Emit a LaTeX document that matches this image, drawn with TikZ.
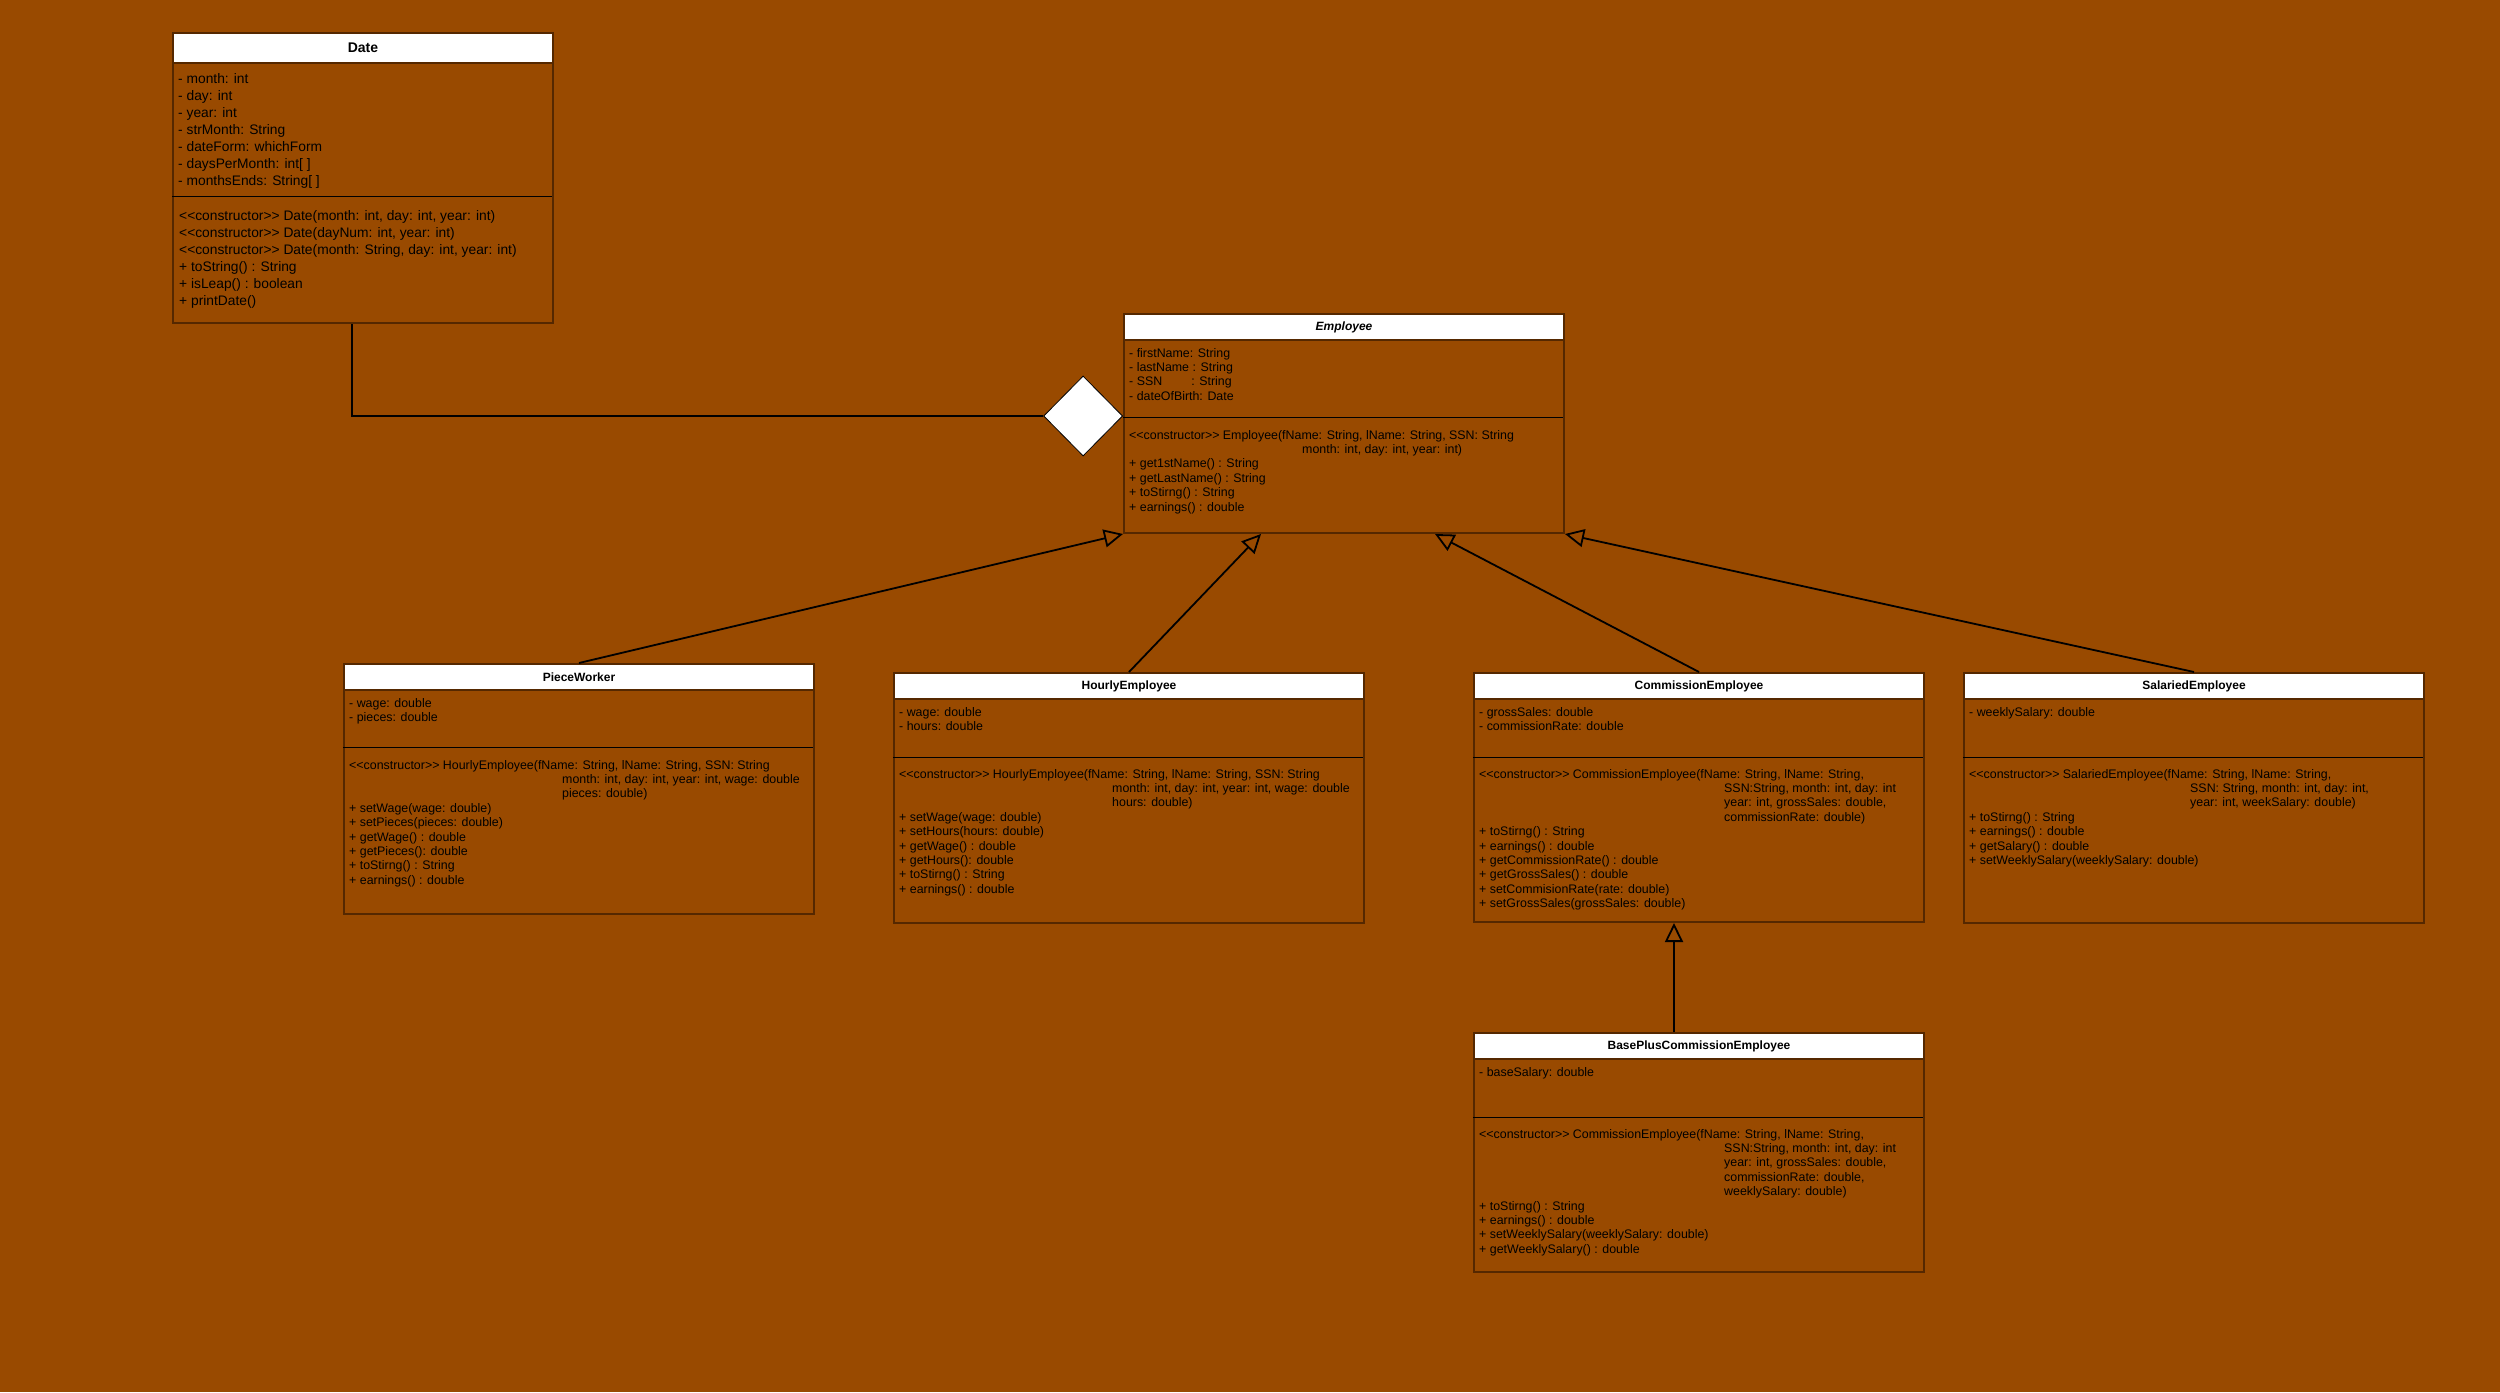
\documentclass[tikz,border=0pt]{standalone}
\usepackage{fontspec}
\newfontfamily\umlfont{Liberation Sans}
\usetikzlibrary{arrows.meta,shapes.geometric}
\definecolor{bgbrown}{HTML}{994A00}
\definecolor{edgebrown}{HTML}{552800}
\begin{document}
\begin{tikzpicture}[x=1pt,y=-1pt]
\tikzstyle{classbox}=[draw=edgebrown, line width=2pt, anchor=north west, inner sep=0pt]
\tikzstyle{classhead}=[classbox, fill=white, minimum height=26pt, font=\umlfont\bfseries\fontsize{12}{14}\selectfont]
\tikzstyle{classtext}=[anchor=base west, inner sep=0pt, font=\umlfont\fontsize{12.4}{14.4}\selectfont]
\tikzstyle{divider}=[draw=black, line width=1pt]
\tikzstyle{aggline}=[draw=black, line width=2.5pt]
\tikzstyle{genarrow}=[draw=black, line width=1.8pt, -{Triangle[open,length=19pt,width=18pt]}]
\tikzstyle{aggdiamond}=[diamond, draw=black, fill=white, line width=0.8pt, minimum width=79pt, minimum height=80pt, inner sep=0pt]
\fill[bgbrown] (0,0) rectangle (2500,1392);
\useasboundingbox (0,0) rectangle (2500,1392);

\node (date) [classbox, minimum width=380pt, minimum height=290pt] at (172,32) {};
\node (date-h) [classhead, minimum width=380pt, minimum height=30pt, font=\umlfont\bfseries\fontsize{14}{16}\selectfont] at (172,32) {Date};
\draw[divider] (172,196) -- (552,196);
\node (date-a) [classtext, font=\umlfont\fontsize{13.8}{17}\selectfont] at (178,83) {\begin{tabular}[t]{@{}l@{}}
- month: int\\ - day: int\\ - year: int\\ - strMonth: String\\ - dateForm: whichForm\\ - daysPerMonth: int[ ]\\ - monthsEnds: String[ ]\end{tabular}};
\node (date-o) [classtext, font=\umlfont\fontsize{13.8}{17}\selectfont] at (179,220) {\begin{tabular}[t]{@{}l@{}}
<<constructor>> Date(month: int, day: int, year: int)\\ <<constructor>> Date(dayNum: int, year: int)\\ <<constructor>> Date(month: String, day: int, year: int)\\ + toString() : String\\ + isLeap() : boolean\\ + printDate()\end{tabular}};

\node (employee) [classbox, minimum width=440pt, minimum height=219pt] at (1123,313) {};
\node (employee-h) [classhead, minimum width=440pt, font=\umlfont\bfseries\itshape\fontsize{12}{14}\selectfont] at (1123,313) {Employee};
\draw[divider] (1123,417) -- (1563,417);
\node (employee-a) [classtext] at (1129,357) {\begin{tabular}[t]{@{}l@{}}
- firstName: String\\ - lastName : String\\ - SSN\hspace*{29pt}: String\\ - dateOfBirth: Date\end{tabular}};
\node (employee-o) [classtext] at (1129,439) {\begin{tabular}[t]{@{}l@{}}
<<constructor>> Employee(fName: String, lName: String, SSN: String\\ \hspace*{173pt}month: int, day: int, year: int)\\ + get1stName() : String\\ + getLastName() : String\\ + toStirng() : String\\ + earnings() : double\end{tabular}};

\node (piece) [classbox, minimum width=470pt, minimum height=250pt] at (343,663) {};
\node (piece-h) [classhead, minimum width=470pt] at (343,663) {PieceWorker};
\draw[divider] (343,747) -- (813,747);
\node (piece-a) [classtext] at (349,707) {\begin{tabular}[t]{@{}l@{}}
- wage: double\\ - pieces: double\end{tabular}};
\node (piece-o) [classtext] at (349,769) {\begin{tabular}[t]{@{}l@{}}
<<constructor>> HourlyEmployee(fName: String, lName: String, SSN: String\\ \hspace*{213pt}month: int, day: int, year: int, wage: double\\ \hspace*{213pt}pieces: double)\\ + setWage(wage: double)\\ + setPieces(pieces: double)\\ + getWage() : double\\ + getPieces(): double\\ + toStirng() : String\\ + earnings() : double\end{tabular}};

\node (hourly) [classbox, minimum width=470pt, minimum height=250pt] at (893,672) {};
\node (hourly-h) [classhead, minimum width=470pt] at (893,672) {HourlyEmployee};
\draw[divider] (893,757) -- (1363,757);
\node (hourly-a) [classtext] at (899,716) {\begin{tabular}[t]{@{}l@{}}
- wage: double\\ - hours: double\end{tabular}};
\node (hourly-o) [classtext] at (899,778) {\begin{tabular}[t]{@{}l@{}}
<<constructor>> HourlyEmployee(fName: String, lName: String, SSN: String\\ \hspace*{213pt}month: int, day: int, year: int, wage: double\\ \hspace*{213pt}hours: double)\\ + setWage(wage: double)\\ + setHours(hours: double)\\ + getWage() : double\\ + getHours(): double\\ + toStirng() : String\\ + earnings() : double\end{tabular}};

\node (commission) [classbox, minimum width=450pt, minimum height=249pt] at (1473,672) {};
\node (commission-h) [classhead, minimum width=450pt] at (1473,672) {CommissionEmployee};
\draw[divider] (1473,757) -- (1923,757);
\node (commission-a) [classtext] at (1479,716) {\begin{tabular}[t]{@{}l@{}}
- grossSales: double\\ - commissionRate: double\end{tabular}};
\node (commission-o) [classtext] at (1479,778) {\begin{tabular}[t]{@{}l@{}}
<<constructor>> CommissionEmployee(fName: String, lName: String,\\ \hspace*{245pt}SSN:String, month: int, day: int\\ \hspace*{245pt}year: int, grossSales: double,\\ \hspace*{245pt}commissionRate: double)\\ + toStirng() : String\\ + earnings() : double\\ + getCommissionRate() : double\\ + getGrossSales() : double\\ + setCommisionRate(rate: double)\\ + setGrossSales(grossSales: double)\end{tabular}};

\node (salaried) [classbox, minimum width=460pt, minimum height=250pt] at (1963,672) {};
\node (salaried-h) [classhead, minimum width=460pt] at (1963,672) {SalariedEmployee};
\draw[divider] (1963,757) -- (2423,757);
\node (salaried-a) [classtext] at (1969,716) {\begin{tabular}[t]{@{}l@{}}
- weeklySalary: double\end{tabular}};
\node (salaried-o) [classtext] at (1969,778) {\begin{tabular}[t]{@{}l@{}}
<<constructor>> SalariedEmployee(fName: String, lName: String,\\ \hspace*{221pt}SSN: String, month: int, day: int,\\ \hspace*{221pt}year: int, weekSalary: double)\\ + toStirng() : String\\ + earnings() : double\\ + getSalary() : double\\ + setWeeklySalary(weeklySalary: double)\end{tabular}};

\node (baseplus) [classbox, minimum width=450pt, minimum height=239pt] at (1473,1032) {};
\node (baseplus-h) [classhead, minimum width=450pt] at (1473,1032) {BasePlusCommissionEmployee};
\draw[divider] (1473,1117) -- (1923,1117);
\node (baseplus-a) [classtext] at (1479,1076) {\begin{tabular}[t]{@{}l@{}}
- baseSalary: double\end{tabular}};
\node (baseplus-o) [classtext] at (1479,1138) {\begin{tabular}[t]{@{}l@{}}
<<constructor>> CommissionEmployee(fName: String, lName: String,\\ \hspace*{245pt}SSN:String, month: int, day: int\\ \hspace*{245pt}year: int, grossSales: double,\\ \hspace*{245pt}commissionRate: double,\\ \hspace*{245pt}weeklySalary: double)\\ + toStirng() : String\\ + earnings() : double\\ + setWeeklySalary(weeklySalary: double)\\ + getWeeklySalary() : double\end{tabular}};

\node (agg) [aggdiamond, anchor=east] at (1123,416) {};
\draw[aggline] ([xshift=-11pt]date.south) |- (agg.west);
\draw[genarrow] (piece.north) -- (employee.south west);
\draw[genarrow] (hourly.north) -- ([xshift=138pt]employee.south west);
\draw[genarrow] (commission.north) -- ([xshift=312pt]employee.south west);
\draw[genarrow] (salaried.north) -- (employee.south east);
\draw[genarrow] ([xshift=-25pt]baseplus.north) -- ([xshift=-25pt]commission.south);
\end{tikzpicture}
\end{document}
